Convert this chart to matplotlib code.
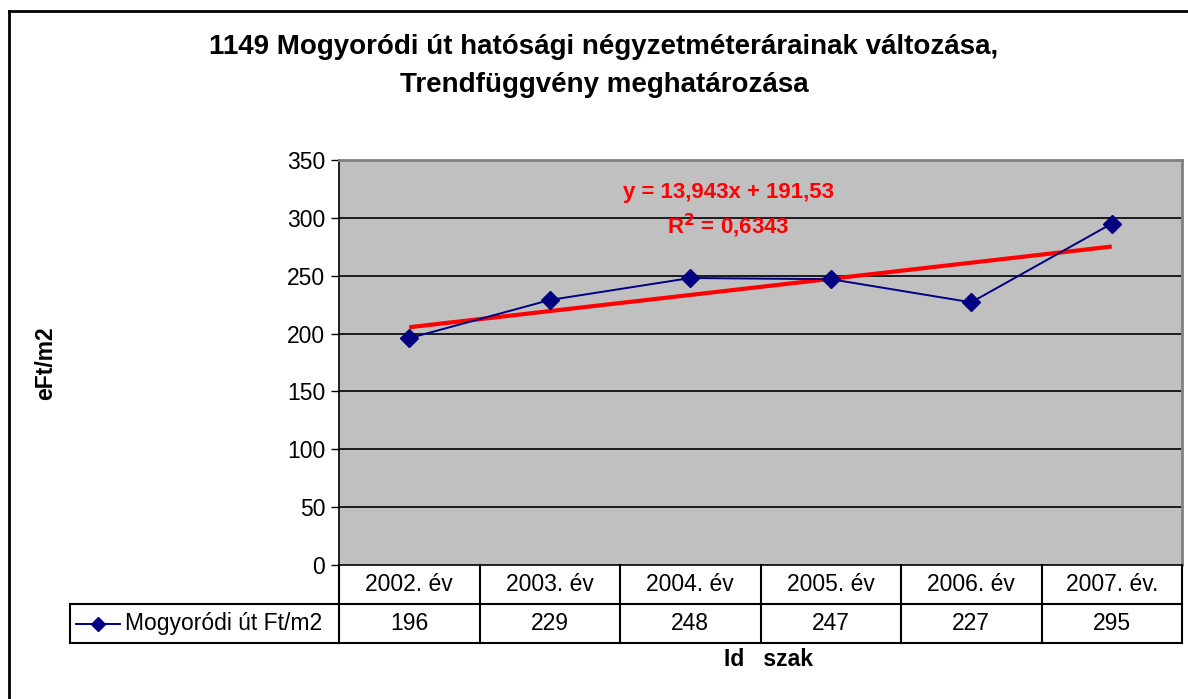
import matplotlib
matplotlib.use("Agg")
import matplotlib.pyplot as plt
import matplotlib.transforms as mtransforms
from matplotlib.lines import Line2D
import numpy as np

plt.rcParams['font.family'] = ['Liberation Sans', 'DejaVu Sans']

categories = ["2002. év", "2003. év", "2004. év", "2005. év", "2006. év", "2007. év."]
values = [196, 229, 248, 247, 227, 295]
series_name = "Mogyoródi út Ft/m2"
trend_slope = 13.943
trend_intercept = 191.53
r_squared = "0,6343"
yticks = [0, 50, 100, 150, 200, 250, 300, 350]
title = "1149 Mogyoródi út hatósági négyzetméterárainak változása,\nTrendfüggvény meghatározása"
ylabel = "eFt/m2"
xlabel = "Id   szak"

W, H = 1188, 699
fig = plt.figure(figsize=(W / 100, H / 100), dpi=100)
fig.patch.set_facecolor("white")

def fx(px):
    return px / W

def fy(py):
    return 1 - py / H

FS = 16.5

# outer chart border (top + left visible)
fig.add_artist(Line2D([fx(9), fx(1190)], [fy(11), fy(11)], color="black", lw=2.0, transform=fig.transFigure))
fig.add_artist(Line2D([fx(9), fx(9)], [fy(11), fy(705)], color="black", lw=2.0, transform=fig.transFigure))

L, R, T, B = 339, 1182, 160, 565
ax = fig.add_axes([fx(L), fy(B), fx(R - L), (B - T) / H])
ax.set_facecolor("#c0c0c0")
n = len(categories)
x = np.arange(n)
ax.set_xlim(-0.5, n - 0.5)
ax.set_ylim(0, 350)
ax.set_yticks(yticks)
ax.set_yticklabels([str(t) for t in yticks], fontsize=FS)
ax.tick_params(axis='y', direction='out', length=6, width=1, pad=4)
ax.set_xticks([])
for t in yticks[1:-1]:
    ax.axhline(t, color="black", lw=1.2, zorder=1)
for s in ["top", "right"]:
    ax.spines[s].set_color("#808080")
    ax.spines[s].set_linewidth(2)
ax.spines["left"].set_color("black")
ax.spines["bottom"].set_color("black")
ax.spines["left"].set_linewidth(1.2)
ax.spines["bottom"].set_linewidth(1.2)

ax.plot(x, values, color="#000080", lw=1.4, marker="D", markersize=9, zorder=3)
xt = x + 1
trend = trend_slope * xt + trend_intercept
ax.plot(x, trend, color="#ff0000", lw=3, zorder=2, solid_capstyle="butt")

eq = "y = {}x + {}".format(f"{trend_slope:.3f}".replace(".", ","), f"{trend_intercept:.2f}".replace(".", ","))
ax.text(2.27, 321.5, eq, color="#ff0000", fontsize=16, fontweight="bold", ha="center", va="center")
ax.text(2.27, 293, r"R$^\mathbf{2}$ = " + r_squared, color="#ff0000", fontsize=16,
        fontweight="bold", ha="center", va="center")

# data table
trans = mtransforms.blended_transform_factory(ax.transData, fig.transFigure)
row1_top, row1_bot, row2_bot = 565, 604, 643
lw_t = 1.5
for i in range(n + 1):
    xb = i - 0.5
    fig.add_artist(Line2D([xb, xb], [fy(row1_top), fy(row2_bot)], color="black", lw=lw_t, transform=trans))
fig.add_artist(Line2D([fx(70), fx(R)], [fy(row1_bot), fy(row1_bot)], color="black", lw=lw_t, transform=fig.transFigure))
fig.add_artist(Line2D([fx(70), fx(R)], [fy(row2_bot), fy(row2_bot)], color="black", lw=lw_t, transform=fig.transFigure))
fig.add_artist(Line2D([fx(70), fx(70)], [fy(row1_bot), fy(row2_bot)], color="black", lw=lw_t, transform=fig.transFigure))
for i, (c, v) in enumerate(zip(categories, values)):
    fig.text(i, fy((row1_top + row1_bot) / 2), c, transform=trans, ha="center", va="center", fontsize=FS)
    fig.text(i, fy((row1_bot + row2_bot) / 2), str(v), transform=trans, ha="center", va="center", fontsize=FS)
# legend key in table
ymid = fy((row1_bot + row2_bot) / 2)
fig.add_artist(Line2D([fx(76), fx(120)], [ymid, ymid], color="#000080", lw=1.4, transform=fig.transFigure))
fig.add_artist(Line2D([fx(98)], [ymid], color="#000080", marker="D", markersize=7, transform=fig.transFigure))
fig.text(fx(125), ymid, series_name, ha="left", va="center", fontsize=FS)

fig.text(fx(768), fy(660), xlabel, ha="center", va="center", fontsize=FS, fontweight="bold")
fig.text(fx(46), fy(363), ylabel, ha="center", va="center", fontsize=FS, fontweight="bold", rotation=90)
fig.text(fx(604), fy(66), title, ha="center", va="center", fontsize=20, fontweight="bold", linespacing=1.62)

fig.savefig("out.png", dpi=100)
